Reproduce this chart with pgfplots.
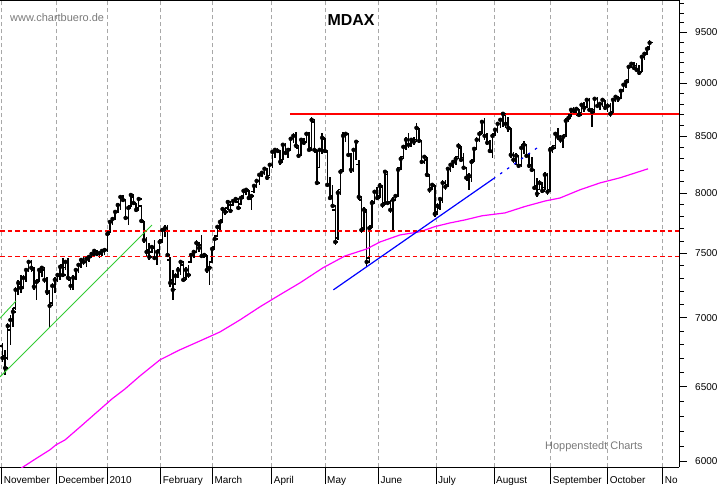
\documentclass[border=0pt]{standalone}
\usepackage{fontspec}
\setmainfont{Liberation Sans}
\usepackage{pgfplots}
\usepackage{pgfplotstable}
\pgfplotsset{compat=1.18}
\definecolor{gridgray}{HTML}{A8A8A8}
\definecolor{ma}{HTML}{FF00FF}
\definecolor{trendgreen}{HTML}{33CC33}
\definecolor{credit}{HTML}{7A7A7A}
\pgfdeclareplotmark{otick}{\pgfpathmoveto{\pgfqpoint{-2.9bp}{0pt}}\pgfpathlineto{\pgfqpoint{0.6bp}{0pt}}\pgfusepathqstroke}
\pgfdeclareplotmark{ctick}{\pgfpathmoveto{\pgfqpoint{-0.6bp}{0pt}}\pgfpathlineto{\pgfqpoint{2.9bp}{0pt}}\pgfusepathqstroke}

\pgfplotstableread{
d O H L C
0 6791 6813 6677 6705
1 6720 6763 6584 6633
2 6705 6961 6691 6939
3 6909 7021 6799 6983
4 6983 7074 6931 7044
5 7074 7235 7059 7212
6 7212 7289 7173 7266
7 7251 7328 7189 7227
8 7235 7328 7235 7305
9 7305 7384 7274 7368
10 7368 7447 7352 7431
11 7431 7447 7352 7384
12 7368 7392 7212 7235
13 7235 7289 7135 7274
14 7289 7384 7274 7368
15 7352 7392 7313 7384
16 7368 7392 7266 7289
17 7289 7313 7173 7197
18 7189 7212 6924 7089
19 7112 7266 7097 7243
20 7243 7313 7189 7289
21 7289 7344 7274 7328
22 7313 7407 7289 7392
23 7407 7463 7313 7328
24 7384 7447 7368 7431
25 7431 7463 7289 7305
26 7289 7313 7212 7243
27 7251 7328 7212 7305
28 7305 7384 7289 7368
29 7368 7423 7344 7407
30 7407 7463 7384 7447
31 7447 7471 7407 7431
32 7431 7463 7392 7455
33 7455 7487 7431 7471
34 7471 7511 7463 7495
35 7495 7535 7471 7519
36 7519 7527 7479 7495
37 7495 7511 7463 7503
38 7503 7527 7479 7519
39 7519 7543 7487 7527
40 7527 7674 7511 7657
41 7674 7773 7665 7756
42 7756 7798 7731 7781
43 7781 7857 7781 7840
44 7840 7916 7832 7899
45 7899 7984 7857 7967
46 7967 7984 7924 7941
47 7941 7941 7773 7790
48 7790 7882 7731 7874
49 7891 8001 7882 7984
50 7967 7984 7899 7916
51 7908 7916 7840 7857
52 7874 7967 7857 7950
53 7891 7899 7748 7765
54 7756 7765 7584 7608
55 7608 7633 7471 7511
56 7527 7584 7447 7471
57 7511 7567 7503 7551
58 7543 7608 7463 7463
59 7463 7527 7407 7511
60 7527 7608 7471 7592
61 7608 7706 7592 7690
62 7690 7731 7633 7706
63 7706 7731 7471 7487
64 7447 7471 7235 7266
65 7289 7368 7135 7212
66 7258 7344 7251 7321
67 7321 7392 7305 7368
68 7368 7447 7328 7431
69 7407 7431 7274 7289
70 7305 7392 7289 7368
71 7368 7407 7305 7328
72 7431 7503 7431 7487
73 7487 7527 7463 7511
74 7511 7608 7503 7584
75 7567 7592 7511 7543
76 7567 7649 7471 7479
77 7479 7503 7463 7487
78 7479 7487 7344 7368
79 7368 7423 7251 7384
80 7431 7551 7423 7535
81 7551 7625 7543 7616
82 7641 7731 7633 7715
83 7706 7773 7674 7756
84 7773 7882 7756 7865
85 7857 7874 7815 7840
86 7874 7941 7857 7924
87 7899 7916 7832 7849
88 7899 7941 7899 7933
89 7933 7958 7916 7950
90 7924 7941 7857 7874
91 7908 7967 7899 7958
92 7975 8027 7967 8018
93 8001 8044 7984 8027
94 8018 8027 7941 7958
95 7950 7984 7857 7975
96 8010 8070 8001 8061
97 8061 8113 8044 8104
98 8096 8175 8070 8157
99 8157 8184 8140 8175
100 8175 8227 8157 8210
101 8201 8219 8113 8131
102 8148 8263 8148 8245
103 8236 8378 8219 8360
104 8360 8396 8307 8378
105 8378 8396 8351 8369
106 8360 8378 8245 8271
107 8289 8442 8289 8424
108 8415 8442 8351 8351
109 8351 8396 8307 8378
110 8387 8496 8378 8478
111 8478 8533 8442 8505
112 8505 8542 8396 8415
113 8396 8415 8307 8325
114 8325 8487 8325 8469
115 8460 8487 8424 8442
116 8451 8533 8442 8523
117 8514 8542 8378 8378
118 8396 8680 8378 8652
119 8633 8652 8360 8378
120 8360 8378 8070 8087
121 8219 8396 8219 8378
122 8378 8533 8342 8487
123 8469 8487 8351 8369
124 8360 8369 8053 8070
125 8070 8140 7941 7958
126 7975 8070 7874 7891
127 7857 7891 7567 7592
128 7625 8027 7608 8001
129 8027 8201 7984 8184
130 8201 8542 8184 8505
131 8505 8542 8451 8523
132 8514 8533 8316 8333
133 8325 8351 8175 8201
134 8201 8396 8184 8378
135 8378 8469 8289 8451
136 8245 8289 7941 7967
137 7941 7967 7665 7690
138 7706 7882 7690 7857
139 7840 7857 7392 7431
140 7463 7731 7431 7706
141 7723 7941 7706 7916
142 7924 8027 7916 8010
143 8010 8053 7941 7958
144 7975 8087 7958 8061
145 8044 8061 7874 7899
146 7916 8201 7899 8184
147 8157 8184 7899 7916
148 7924 7941 7832 7857
149 7857 7967 7690 7941
150 7941 7984 7941 7975
151 7975 8227 7975 8201
152 8219 8316 8201 8298
153 8316 8424 8307 8405
154 8415 8496 8378 8469
155 8469 8533 8396 8424
156 8433 8487 8405 8469
157 8469 8496 8424 8451
158 8469 8624 8451 8578
159 8560 8578 8442 8460
160 8451 8460 8254 8271
161 8271 8333 8254 8316
162 8289 8316 8140 8157
163 8140 8157 8001 8027
164 8044 8087 8027 8070
165 8061 8070 7798 7823
166 7840 7916 7815 7891
167 7874 7967 7857 7950
168 7941 8113 7916 8087
169 8087 8113 8027 8053
170 8070 8227 8053 8210
171 8201 8263 8184 8245
172 8236 8289 8219 8271
173 8271 8316 8245 8298
174 8316 8442 8298 8415
175 8396 8415 8271 8289
176 8307 8351 8201 8219
177 8210 8219 8113 8131
178 8113 8175 8027 8148
179 8131 8289 8096 8271
180 8289 8405 8271 8387
181 8396 8496 8378 8469
182 8469 8542 8451 8523
183 8542 8652 8523 8633
184 8633 8670 8469 8505
185 8505 8533 8424 8442
186 8451 8469 8351 8369
187 8360 8533 8307 8505
188 8523 8578 8505 8560
189 8560 8624 8533 8615
190 8615 8670 8578 8652
191 8652 8726 8587 8708
192 8689 8717 8578 8615
193 8624 8680 8542 8578
194 8560 8578 8307 8333
195 8333 8360 8263 8289
196 8289 8351 8245 8325
197 8316 8325 8219 8236
198 8245 8433 8227 8396
199 8396 8460 8342 8424
200 8415 8424 8307 8325
201 8325 8351 8219 8236
202 8245 8316 8184 8201
203 8193 8201 8027 8044
204 8061 8131 7967 7993
205 8027 8113 8027 8087
206 8070 8096 8001 8018
207 8044 8184 8027 8157
208 8148 8175 7984 8010
209 8027 8405 8010 8378
210 8378 8405 8351 8396
211 8415 8542 8396 8523
212 8523 8578 8469 8496
213 8496 8514 8442 8469
214 8469 8514 8396 8496
215 8514 8670 8496 8643
216 8652 8698 8633 8670
217 8698 8764 8680 8745
218 8745 8773 8717 8736
219 8726 8764 8689 8754
220 8745 8754 8680 8698
221 8717 8811 8698 8792
222 8782 8820 8726 8764
223 8773 8858 8764 8839
224 8839 8858 8726 8745
225 8736 8764 8587 8726
226 8745 8868 8726 8849
227 8849 8868 8764 8782
228 8782 8820 8745 8801
229 8801 8858 8773 8839
230 8830 8839 8745 8764
231 8764 8811 8726 8782
232 8782 8811 8680 8708
233 8726 8858 8708 8839
234 8839 8887 8820 8868
235 8858 8877 8820 8849
236 8858 8935 8849 8925
237 8935 9002 8916 8983
238 8973 9031 8954 9012
239 9031 9177 9002 9157
240 9167 9206 9147 9187
241 9187 9206 9128 9147
242 9167 9196 9109 9128
243 9128 9177 9080 9099
244 9109 9276 9109 9256
245 9246 9305 9226 9286
246 9295 9355 9276 9335
247 9355 9426 9345 9396
}\ohlc

\begin{document}
\begin{tikzpicture}
\begin{axis}[
  at={(0,485bp)}, anchor=north west,
  scale only axis, width=679bp, height=467.5bp,
  xmin=-0.954, xmax=258.2,
  ymode=log, ymin=5963, ymax=9838,
  axis x line*=bottom, axis y line*=right,
  axis line style={-, black, line width=0.8bp},
  xtick=\empty,
  minor xtick={3.5,8.5,...,253.5},
  extra x ticks={-0.31,20.53,40.0,60.38,80.08,102.75,123.09,143.44,165.46,187.6,209.24,231.0,251.98},
  extra x tick labels={November,December,2010,February,March,April,May,June,July,August,September,October,No},
  extra x tick style={major tick length=17bp, grid=major,
     tick label style={anchor=north west, inner sep=0pt, xshift=2bp, yshift=8bp}},
  major grid style={gridgray, dash pattern=on 4bp off 3bp, line width=0.8bp},
  ytick={6000,6500,7000,7500,8000,8500,9000,9500},
  yticklabels={6000,6500,7000,7500,8000,8500,9000,9500},
  minor ytick={6100,6200,6300,6400,6600,6700,6800,6900,7100,7200,7300,7400,7600,7700,7800,7900,8100,8200,8300,8400,8600,8700,8800,8900,9100,9200,9300,9400,9600,9700,9800},
  ytick pos=right, xtick pos=left,
  tick align=outside,
  major tick length=7.7bp, minor tick length=4.5bp,
  tick style={black, line width=0.8bp},
  tick label style={font=\fontsize{10}{12}\selectfont},
  yticklabel style={anchor=west, xshift=5bp},
]
% OHLC bars: high-low range
\addplot[only marks, mark=none,
  error bars/.cd, y dir=both, y explicit, error mark=none,
  error bar style={black, line width=1.5bp}]
  table[x=d, y=C, y error plus expr=\thisrow{H}-\thisrow{C}, y error minus expr=\thisrow{C}-\thisrow{L}] {\ohlc};
% open ticks
\addplot[only marks, mark=otick, mark options={black, line width=1.3bp}] table[x=d, y=O] {\ohlc};
% close ticks
\addplot[only marks, mark=ctick, mark options={black, line width=1.3bp}] table[x=d, y=C] {\ohlc};

% 200-day moving average
\addplot[ma, line width=1.2bp] coordinates {
(6.7,5953) (12.4,6015) (18.1,6076) (20.4,6108) (23.9,6141) (29.6,6227) (35.3,6315)
(41.8,6417) (46.8,6486) (52.5,6577) (60.1,6691) (67.7,6763) (75.4,6828) (83.0,6894)
(90.6,6983) (98.3,7082) (105.9,7174) (113.5,7266) (122.3,7384) (130.7,7479) (139.0,7535)
(144.1,7592) (151.7,7649) (159.4,7676) (165.1,7718) (170.8,7748) (176.5,7773) (183.0,7807)
(191.8,7832) (199.4,7886) (207.1,7933) (212.8,7958) (220.4,8027) (228.1,8087) (235.7,8131)
(246.4,8210)};

% horizontal support / resistance lines
\addplot[red, line width=1.5bp] coordinates {(109.7,8708) (258.2,8708)};
\addplot[red, line width=1.1bp, dash pattern=on 4.5bp off 3bp] coordinates {(-0.954,7682) (258.2,7682)};
\addplot[red, line width=1.1bp, dash pattern=on 4.5bp off 3bp] coordinates {(-0.954,7477) (258.2,7477)};

% trend lines
\addplot[trendgreen, line width=0.9bp] coordinates {(-0.954,6570) (57.06,7731)};
\addplot[trendgreen, line width=0.9bp] coordinates {(-0.954,6996) (5.15,7127)};
\addplot[blue, line width=1.2bp] coordinates {(126.3,7212) (187.3,8122)};
\addplot[blue, line width=1.2bp, dash pattern=on 2.5bp off 6bp] coordinates {(187.3,8122) (205.2,8415)};
\end{axis}
\draw[black, line width=0.8bp] (0,485bp) -- (679bp,485bp);
\node[font=\bfseries\fontsize{16}{19}\selectfont, anchor=center] at (351bp,465bp) {MDAX};
\node[font=\fontsize{11}{13}\selectfont, text=credit, anchor=west, inner sep=0pt] at (10bp,467bp) {www.chartbuero.de};
\node[font=\fontsize{11}{13}\selectfont, text=credit, anchor=west, inner sep=0pt] at (545bp,38bp) {Hoppenstedt Charts};
\pgfresetboundingbox
\useasboundingbox (0,0) rectangle (723bp,485bp);
\end{tikzpicture}
\end{document}
